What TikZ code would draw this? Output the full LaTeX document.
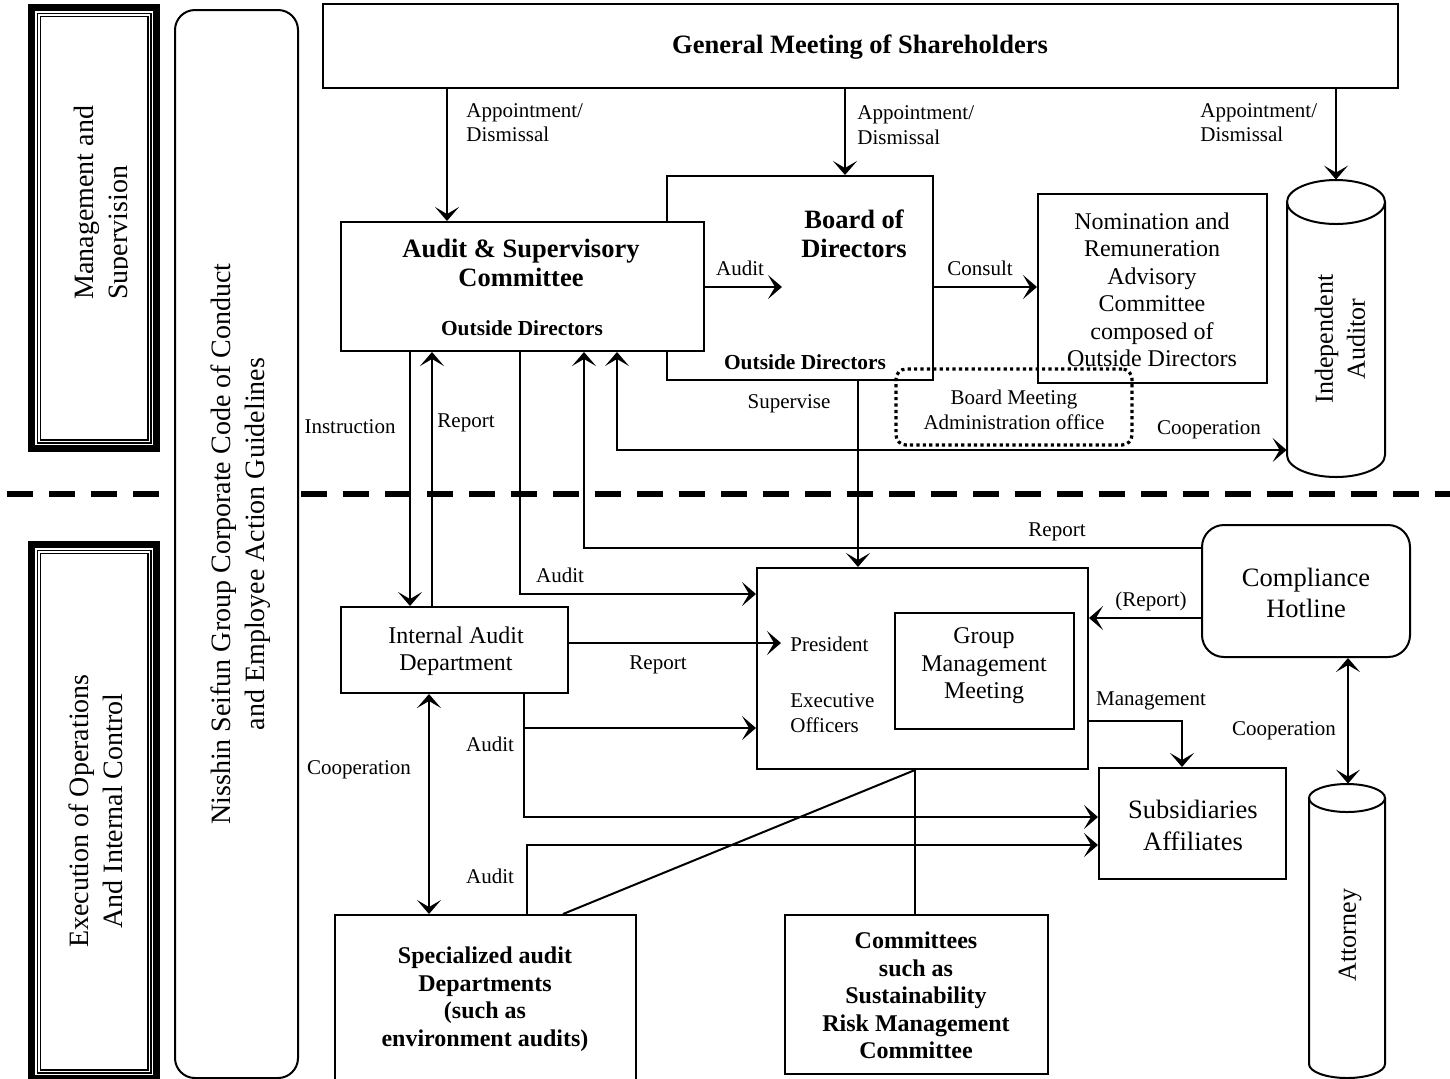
\documentclass[tikz,border=0pt]{standalone}
\usepackage{fontspec}
\setmainfont{Liberation Serif}
\usetikzlibrary{arrows.meta,fit,calc}
\newcommand{\fLab}{\fontsize{10.5}{12.25}\selectfont}
\newcommand{\fLabB}{\fontsize{10.7}{12.25}\selectfont\bfseries}
\newcommand{\fMain}{\fontsize{12}{13.75}\selectfont}
\newcommand{\fMainB}{\fontsize{12}{13.75}\selectfont\bfseries}
\newcommand{\fBig}{\fontsize{13.25}{15.75}\selectfont}
\newcommand{\fBigB}{\fontsize{13.25}{14.75}\selectfont\bfseries}
\newcommand{\fRot}{\fontsize{14}{17}\selectfont}
\newcommand{\fRotS}{\fontsize{13}{16}\selectfont}
\begin{document}
\begin{tikzpicture}[x=0.5pt,y=-0.5pt,
  box/.style={draw,line width=1pt,fill=white,inner sep=0pt},
  ghost/.style={inner sep=0pt},
  txt/.style={inner sep=0pt,align=center},
  arr/.style={line width=1.35pt,-{Stealth[length=7pt,width=12pt,inset=3.5pt]}},
  arrboth/.style={line width=1.35pt,{Stealth[length=7pt,width=12pt,inset=3.5pt]}-{Stealth[length=7pt,width=12pt,inset=3.5pt]}},
  link/.style={line width=1pt},
  lab/.style={font=\fLab,inner sep=0pt,align=center},
  dotbox/.style={draw,line width=1.6pt,dash pattern=on 1.6pt off 1.6pt,rounded corners=5pt,inner sep=0pt},
  ]
\useasboundingbox (0,0) rectangle (1450,1078);
\fill[white] (0,0) rectangle (1450,1078);
\clip (0,0) rectangle (1450,1078);

% helper tracks
\foreach \v in {410,429,432,447,520,524,527,563,584,617,845,858,915,1182,1348}{\coordinate (v\v) at (\v,0);}
\foreach \h in {287,450,548,594,618,643,721,728,817,845}{\coordinate (h\h) at (0,\h);}
\coordinate (audtip) at (782,287);
\coordinate (prestip) at (781,643);

% separator
\draw[line width=3pt,dash pattern=on 12.75pt off 8.25pt] (7,494) -- (1450,494);

% left frames
\node[ghost,fit={(28,4)(160,452)}] (ms) {};
\node[ghost,fit={(28,541)(160,1082)}] (eo) {};
\foreach \n in {ms,eo}{
  \draw[line width=3.5pt] ($(\n.north west)+(3.5,3.5)$) rectangle ($(\n.south east)+(-3.5,-3.5)$);
  \draw[line width=0.6pt] ($(\n.north west)+(9.5,9.5)$) rectangle ($(\n.south east)+(-9.5,-9.5)$);
  \draw[line width=0.6pt] ($(\n.north west)+(12.5,12.5)$) rectangle ($(\n.south east)+(-12.5,-12.5)$);
}
\begin{scope}
\clip (40,14) rectangle (127,440);
\node[font=\fRot,rotate=90,align=left,anchor=west,inner sep=0pt] (mst) at (104,300) {Management and\\Supervision};
\end{scope}
\node[font=\fRot,rotate=90,txt] (eot) at (96,811) {Execution of Operations\\And Internal Control};

% code of conduct
\node[box,rounded corners=10pt,fit={(175,10)(298,1078)}] (ncc) {};
\node[font=\fRot,rotate=90,txt] (ncct) at (241,544) {Nisshin Seifun Group Corporate Code of Conduct\\and Employee Action Guidelines};

% top
\node[box,fit={(323,4)(1398,88)}] (gm) {};
\node[txt,font=\fBigB] (gmt) at (860,47) {General Meeting of Shareholders};
\node[box,fit={(667,176)(933,380)}] (bod) {};
\node[box,fit={(341,222)(704,351)}] (asc) {};
\node[font=\fBigB,txt] (asct) at (521,263) {Audit \& Supervisory\\Committee};
\node[font=\fLabB,txt] (asco) at (522,328) {Outside Directors};
\node[font=\fBigB,txt] (bodt) at (854,234) {Board of\\Directors};
\node[font=\fLabB,txt] (bodo) at (805,362) {Outside Directors};
\node[box,fit={(1038,194)(1267,383)}] (nom) {};
\node[txt,font=\fMain] (nomt) at (1152,290) {Nomination and\\Remuneration\\Advisory\\Committee\\composed of\\Outside Directors};

% independent auditor cylinder
\node[ghost,fit={(1287,180)(1385,477)}] (ia) {};
\draw[line width=1pt,fill=white] (1287,202) -- (1287,455) arc[start angle=180,end angle=360,x radius=24.5pt,y radius=11pt] -- (1385,202) arc[start angle=0,end angle=180,x radius=24.5pt,y radius=11pt] -- cycle;
\draw[line width=1pt] (1287,202) arc[start angle=180,end angle=360,x radius=24.5pt,y radius=11pt];
\node[font=\fRotS,rotate=90,txt] (iat) at (1340,339) {Independent\\Auditor};

% lower
\node[box,fit={(341,607)(568,693)}] (iad) {};
\node[txt,font=\fMain] (iadt) at (456,651) {Internal Audit\\Department};
\node[box,fit={(757,568)(1088,769)}] (pres) {};
\node[font=\fLab,anchor=west,inner sep=0pt] (prest) at (790,644) {President};
\node[font=\fLab,anchor=west,align=left,inner sep=0pt] (exot) at (790,713) {Executive\\Officers};
\node[box,fit={(895,613)(1074,729)}] (gmm) {};
\node[txt,font=\fMain] (gmmt) at (984,666) {Group\\Management\\Meeting};
\node[box,rounded corners=11pt,fit={(1202,525)(1410,657)}] (ch) {};
\node[txt,font=\fBig] (cht) at (1306,593) {Compliance\\Hotline};
\node[box,fit={(1099,768)(1286,879)}] (subs) {};
\node[txt,font=\fBig] (subst) at (1193,825.5) {Subsidiaries\\Affiliates};
\node[box,fit={(335,915)(636,1083)}] (sad) {};
\node[txt,font=\fMainB] (sadt) at (485,999) {Specialized audit\\Departments\\(such as\\environment audits)};
\node[box,fit={(785,915)(1048,1074)}] (com) {};
\node[txt,font=\fMainB] (comt) at (916,995.5) {Committees\\such as\\Sustainability\\Risk Management\\Committee};

% attorney cylinder
\node[ghost,fit={(1309,784)(1385,1078)}] (att) {};
\draw[line width=1pt,fill=white] (1309,798) -- (1309,1064) arc[start angle=180,end angle=360,x radius=19pt,y radius=7pt] -- (1385,798) arc[start angle=0,end angle=180,x radius=19pt,y radius=7pt] -- cycle;
\draw[line width=1pt] (1309,798) arc[start angle=180,end angle=360,x radius=19pt,y radius=7pt];
\node[font=\fRotS,rotate=90,inner sep=0pt] (attt) at (1350,935) {Attorney};

% connectors
\draw[arr] (gm.south -| v447) -- (asc.north -| v447);
\draw[arr] (gm.south -| v845) -- (bod.north -| v845);
\draw[arr] (gm.south -| ia.north) -- (ia.north);
\draw[arr] (asc.east |- h287) -- (audtip);
\draw[arr] (bod.east |- h287) -- (nom.west |- h287);
\draw[arrboth] (asc.south -| v617) |- (ia.west |- h450);
\draw[arr] (bod.south -| v858) -- (pres.north -| v858);
\draw[arr] (asc.south -| v410) -- (iad.north -| v410);
\draw[arr] (iad.north -| v432) -- (asc.south -| v432);
\draw[arr] (asc.south -| v520) |- (pres.west |- h594);
\draw[arr] (ch.west |- h548) -| (asc.south -| v584);
\draw[arr] (iad.east |- h643) -- (prestip);
\draw[arr] (iad.south -| v524) |- (subs.west |- h817);
\draw[arr] (v524 |- h728) -- (pres.west |- h728);
\draw[arr] (sad.north -| v527) |- (subs.west |- h845);
\draw[arrboth] (iad.south -| v429) -- (sad.north -| v429);
\draw[link] (sad.north -| v563) -- (pres.south -| v915);
\draw[link] (pres.south -| v915) -- (com.north -| v915);
\draw[arr] (pres.east |- h721) -| (subs.north -| v1182);
\draw[arr] (ch.west |- h618) -- (pres.east |- h618);
\draw[arrboth] (ch.south -| v1348) -- (att.north -| v1348);

% dotted office box
\node[dotbox,fit={(896,369)(1132,445)}] (bma) {};
\node[txt,font=\fLab] (bmat) at (1014,410) {Board Meeting\\Administration office};

% labels
\node[lab,anchor=west,align=left] (l1) at (466,122.5) {Appointment/\\Dismissal};
\node[lab,anchor=west,align=left] (l2) at (857,125) {Appointment/\\Dismissal};
\node[lab,anchor=west,align=left] (l3) at (1200,122.5) {Appointment/\\Dismissal};
\node[lab] (l4) at (740,268) {Audit};
\node[lab] (l5) at (980,268) {Consult};
\node[lab] (l6) at (350,427) {Instruction};
\node[lab] (l7) at (466,423) {Report};
\node[lab] (l8) at (789,404) {Supervise};
\node[lab] (l9) at (1209,430) {Cooperation};
\node[lab] (l10) at (1057,532) {Report};
\node[lab] (l11) at (560,575) {Audit};
\node[lab] (l12) at (658,665) {Report};
\node[lab] (l13) at (490,744) {Audit};
\node[lab] (l14) at (359,770) {Cooperation};
\node[lab] (l15) at (490,876) {Audit};
\node[lab] (l16) at (1151,601) {(Report)};
\node[lab] (l17) at (1151,701) {Management};
\node[lab] (l18) at (1284,731) {Cooperation};
\end{tikzpicture}
\end{document}
